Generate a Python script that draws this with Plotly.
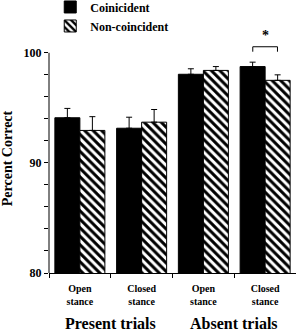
import plotly.graph_objects as go

# Data
positions = [0, 1, 2, 3]
tick_labels = ["Open<br>stance", "Closed<br>stance", "Open<br>stance", "Closed<br>stance"]
coincident = [94.1, 93.15, 98.05, 98.75]
coincident_err = [0.85, 1.0, 0.5, 0.4]
noncoincident = [92.95, 93.7, 98.4, 97.5]
noncoincident_err = [1.25, 1.15, 0.35, 0.5]
group_labels = ["Present trials", "Absent trials"]
group_centers = [0.5, 2.5]

FONT = "Liberation Serif"

fig = go.Figure()
fig.add_trace(go.Bar(
    x=positions, y=coincident, name="<b>Coinicident</b>",
    marker=dict(color="black", line=dict(color="black", width=1)),
    error_y=dict(type="data", array=coincident_err, arrayminus=[0]*4, symmetric=False,
                 color="black", thickness=1, width=3),
))
fig.add_trace(go.Bar(
    x=positions, y=noncoincident, name="<b>Non-coincident</b>",
    marker=dict(color="white", line=dict(color="black", width=1),
                pattern=dict(shape="\\", fgcolor="black", bgcolor="white", size=6,
                             solidity=0.5, fillmode="replace")),
    error_y=dict(type="data", array=noncoincident_err, arrayminus=[0]*4, symmetric=False,
                 color="black", thickness=1, width=3),
))

# y axis line only from 80 to 100
fig.add_shape(type="line", xref="paper", yref="y", x0=0, x1=0, y0=80, y1=100,
              line=dict(color="black", width=1))

# significance bracket
fig.add_shape(type="path", xref="x", yref="y",
              path="M 2.8,100.1 L 2.8,100.55 L 3.2,100.55 L 3.2,100.1",
              line=dict(color="black", width=1))
fig.add_annotation(x=3.0, y=1.035, xref="x", yref="paper", text="<b>*</b>", showarrow=False,
                   yanchor="middle", font=dict(family=FONT, size=14, color="black"))

for lbl, cx in zip(group_labels, group_centers):
    fig.add_annotation(x=cx, y=-0.22, xref="x", yref="paper", text=f"<b>{lbl}</b>",
                       showarrow=False, yanchor="middle",
                       font=dict(family=FONT, size=16, color="black"))

fig.update_layout(
    width=296, height=335,
    margin=dict(l=49, r=0, t=44, b=62, autoexpand=False),
    paper_bgcolor="white", plot_bgcolor="white",
    barmode="group", bargap=0.19, bargroupgap=0,
    font=dict(family=FONT, color="black"),
    legend=dict(x=0.005, y=1.225, xanchor="left", yanchor="top",
                font=dict(family=FONT, size=12, color="black"),
                bgcolor="rgba(0,0,0,0)", tracegroupgap=0, itemwidth=30),
    showlegend=True,
)
fig.update_xaxes(
    range=[-0.5, 3.5], tickvals=positions, ticktext=[f"<b>{t}</b>" for t in tick_labels],
    ticks="outside", ticklen=6, tickcolor="rgba(0,0,0,0)",
    tickfont=dict(family=FONT, size=10, color="black"),
    showline=True, linecolor="black", linewidth=1, showgrid=False, zeroline=False,
    minor=dict(tickvals=[-0.5, 0.5, 1.5, 2.5, 3.5], ticks="outside", ticklen=4,
               tickcolor="black", showgrid=False),
)
fig.update_yaxes(
    range=[80, 100.8], tickvals=[80, 90, 100], ticktext=["<b>80</b>", "<b>90</b>", "<b>100</b>"],
    ticks="outside", ticklen=4, tickcolor="black",
    tickfont=dict(family=FONT, size=12, color="black"),
    showline=False, showgrid=False, zeroline=False,
    minor=dict(tickvals=[82, 84, 86, 88, 92, 94, 96, 98], ticks="outside", ticklen=4,
               tickcolor="black", showgrid=False),
    title=dict(text="<b>Percent Correct</b>", font=dict(family=FONT, size=14, color="black"),
               standoff=7),
)

fig.write_html("out.html")
